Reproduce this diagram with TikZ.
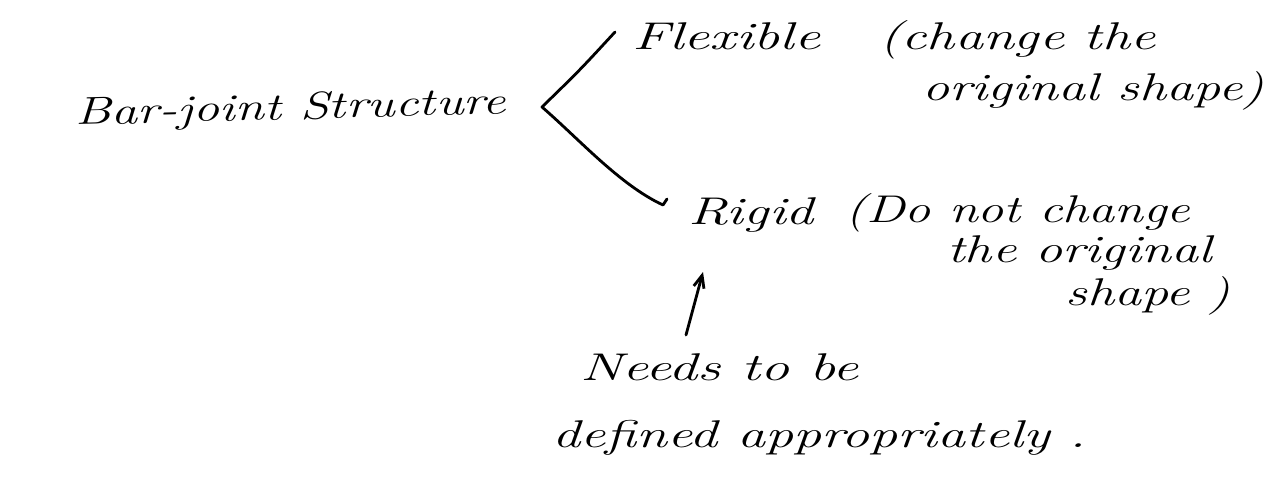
\documentclass[tikz,border=0pt]{standalone}
\usepackage{graphicx}
\usetikzlibrary{arrows.meta}
% hand-lettered words: italic, stretched sideways by a given factor
\newcommand{\wide}[2]{\scalebox{#1}[1]{#2}}
\begin{document}
\begin{tikzpicture}[x=0.02cm,y=-0.02cm,
  hand/.style={anchor=base west,inner sep=0pt,font=\fontsize{22}{26}\selectfont\itshape},
  stroke/.style={line width=1.6pt,line cap=round,line join=round}]
\useasboundingbox (0,0) rectangle (1265,480);
% left label
\node[hand,rotate=1.5] (bar) at (75,125) {\wide{1.36}{Bar-joint Structure}};
% flexible branch
\node[hand] (flex) at (632,50) {\wide{1.5}{Flexible}};
\node[hand] (flexa) at (879,50) {\wide{1.45}{(change the}};
\node[hand] (flexb) at (922,100) {\wide{1.4}{original shape)}};
% rigid branch
\node[hand] (rigid) at (688,224) {\wide{1.45}{Rigid}};
\node[hand] (rigida) at (845,222) {\wide{1.35}{(Do not change}};
\node[hand] (rigidb) at (947,262) {\wide{1.4}{the original}};
\node[hand] (rigidc) at (1065,305) {\wide{1.4}{shape )}};
% note below
\node[hand] (needs) at (580,380) {\wide{1.5}{Needs to be}};
\node[hand] (defd) at (552,447) {\wide{1.45}{defined appropriately .}};
% branching bracket
\coordinate (v) at (542,107);
\coordinate (up) at (615,32);
\coordinate (lo) at (663,205);
\coordinate (hook) at (667,199);
\draw[stroke] (up) .. controls (580,70) .. (v) .. controls (580,140) and (620,185) .. (lo) -- (hook);
% arrow pointing to Rigid
\coordinate (tail) at (686,335);
\coordinate (head) at (703,272);
\draw[stroke,-{Straight Barb[length=7pt,width=6pt]}] (tail) -- (head);
\end{tikzpicture}
\end{document}
